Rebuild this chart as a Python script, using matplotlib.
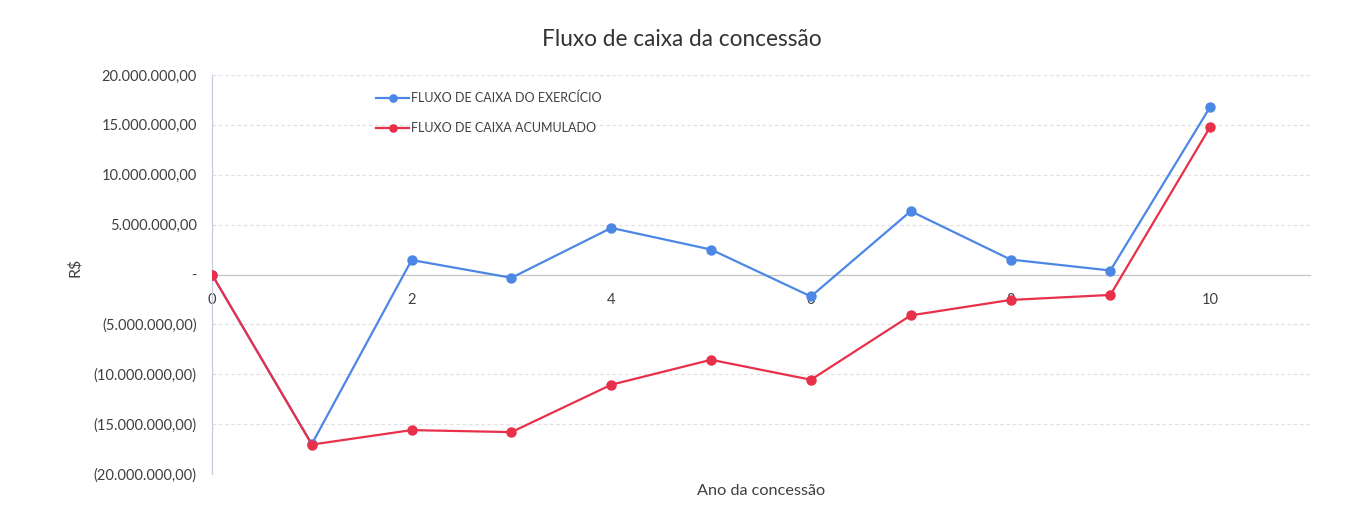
import matplotlib
matplotlib.use("Agg")
import matplotlib.pyplot as plt
from matplotlib.ticker import FuncFormatter, MultipleLocator

plt.rcParams['font.family'] = ['Lato', 'DejaVu Sans']

anos = [0, 1, 2, 3, 4, 5, 6, 7, 8, 9, 10]
fluxo_exercicio = [0.0, -17.0e6, 1.45e6, -0.33e6, 4.67e6, 2.5e6, -2.2e6, 6.35e6, 1.5e6, 0.4e6, 16.8e6]
fluxo_acumulado = [0.0, -17.05e6, -15.6e6, -15.8e6, -11.05e6, -8.55e6, -10.55e6, -4.1e6, -2.55e6, -2.05e6, 14.8e6]
serie_nomes = ["FLUXO DE CAIXA DO EXERCÍCIO", "FLUXO DE CAIXA ACUMULADO"]
titulo = "Fluxo de caixa da concessão"
rotulo_x = "Ano da concessão"
rotulo_y = "R$"

W, H = 1348, 518
fig = plt.figure(figsize=(W / 100, H / 100), dpi=100)
ax = fig.add_axes([212 / W, 1 - 474 / H, (1310 - 212) / W, (474 - 75) / H])

azul = "#4c87e6"
vermelho = "#e8304a"
ax.plot(anos, fluxo_exercicio, color=azul, lw=1.6, marker='o', ms=6.5, label=serie_nomes[0], zorder=3)
ax.plot(anos, fluxo_acumulado, color=vermelho, lw=1.6, marker='o', ms=6.5, label=serie_nomes[1], zorder=4)

ax.set_xlim(0, 11)
ax.set_ylim(-20e6, 20e6)
ax.yaxis.set_major_locator(MultipleLocator(5e6))
ax.xaxis.set_major_locator(MultipleLocator(2))


def fmt(v, pos):
    if abs(v) < 1:
        return "-"
    s = f"{abs(v):,.2f}".replace(",", "X").replace(".", ",").replace("X", ".")
    return f"({s})" if v < 0 else s


ax.yaxis.set_major_formatter(FuncFormatter(fmt))
ax.xaxis.set_major_formatter(FuncFormatter(lambda v, p: f"{int(v)}" if v <= 10 else ""))

ax.grid(axis='y', color='#e2e2e2', lw=0.9, ls=(0, (3, 2)))
ax.set_axisbelow(True)
for s in ['top', 'right']:
    ax.spines[s].set_visible(False)
ax.spines['bottom'].set_position(('data', 0))
ax.spines['bottom'].set_color('#c6c6c6')
ax.spines['bottom'].set_linewidth(0.9)
ax.spines['left'].set_color('#c9c9e0')
ax.spines['left'].set_linewidth(0.9)
ax.tick_params(axis='both', length=0, labelsize=10.5, colors='#404040')
ax.tick_params(axis='y', pad=11)
ax.tick_params(axis='x', pad=13)

ax.legend(loc='center left', bbox_to_anchor=(365 / W, 1 - 113 / H), bbox_transform=fig.transFigure,
          frameon=False, fontsize=9, handlelength=2.6, handletextpad=0.2, labelspacing=1.45,
          labelcolor='#404040', markerscale=0.8)

fig.text(682 / W, 1 - 40 / H, titulo, ha='center', va='center', fontsize=16.3, color='#333333')
fig.text(761 / W, 1 - 491 / H, rotulo_x, ha='center', va='center', fontsize=11.7, color='#404040')
fig.text(75 / W, 1 - 267 / H, rotulo_y, ha='center', va='center', fontsize=11.5, color='#404040', rotation=90)

fig.savefig("out.png", dpi=100)
